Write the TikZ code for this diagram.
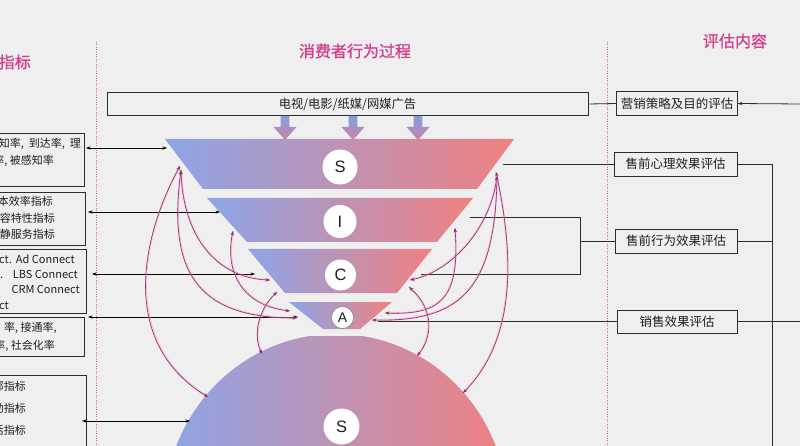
\documentclass[tikz,border=0pt]{standalone}
\usepackage{fontspec}
\setmainfont{Noto Sans CJK SC}
\newfontfamily\latf{Liberation Sans}
\newfontfamily\hdrf[FakeBold=1.1]{Noto Sans CJK SC}
\usetikzlibrary{arrows.meta}
\definecolor{bgc}{RGB}{239,239,239}
\definecolor{hdrc}{RGB}{212,62,140}
\definecolor{fblue}{RGB}{140,165,232}
\definecolor{fred}{RGB}{240,128,128}
\definecolor{curvc}{RGB}{150,40,105}
\definecolor{haloc}{RGB}{238,150,190}
\definecolor{dotc}{RGB}{205,110,140}
\definecolor{boxc}{RGB}{45,45,45}
\definecolor{txtc}{RGB}{30,30,30}
\definecolor{arrtop}{RGB}{128,160,228}
\definecolor{arrbot}{RGB}{210,128,160}
\newcommand\magcurve[4]{%
  \draw[cvhalo] (#1) .. controls #2 and #3 .. (#4);
  \draw[cvcore] (#1) .. controls #2 and #3 .. (#4);}
\begin{document}
\begin{tikzpicture}[x=1pt,y=-1pt,
  hdr/.style={text=hdrc,font=\hdrf\fontsize{16}{16}\selectfont,inner sep=0pt},
  dotl/.style={draw=dotc,line width=0.7pt,dash pattern=on 0.8pt off 1.6pt},
  rbox/.style={draw=boxc,line width=0.8pt,inner sep=0pt,text=txtc,font=\fontsize{12.5}{12.5}\selectfont,minimum height=23.5pt},
  lbox/.style={draw=boxc,line width=0.8pt,inner sep=0pt},
  ltx/.style={text=txtc,font=\fontsize{11}{11}\selectfont,inner sep=0pt,anchor=base east},
  ltxw/.style={ltx,anchor=base west},
  ln/.style={draw=boxc,line width=0.8pt},
  blk/.style={draw=black,line width=0.6pt,{Stealth[length=4.5pt,width=3.2pt]}-{Stealth[length=4.5pt,width=3.2pt]}},
  cvhalo/.style={draw=haloc,line width=1.8pt,opacity=0.55},
  cvcore/.style={draw=curvc,line width=0.6pt,{Stealth[length=4.5pt,width=3.4pt]}-{Stealth[length=4.5pt,width=3.4pt]}},
  letc/.style={circle,fill=white,inner sep=0pt,font=\latf\fontsize{16.5}{16.5}\selectfont,text=txtc},
  funnel/.style={left color=fblue,right color=fred}
]
\useasboundingbox (0,0) rectangle (800,446);
\clip (0,0) rectangle (800,446);
\fill[bgc] (0,0) rectangle (800,446);

% headers
\node[hdr,anchor=east] (h1) at (31,62) {指标};
\node[hdr] (h2) at (355,51) {消费者行为过程};
\node[hdr] (h3) at (735,41) {评估内容};

% dotted separators
\coordinate (d1t) at (96,42); \coordinate (d1b) at (96,446);
\coordinate (d2t) at (607,42); \coordinate (d2b) at (607,446);
\draw[dotl] (d1t) -- (d1b);
\draw[dotl] (d2t) -- (d2b);

% top boxes
\node[rbox,minimum width=481pt,font=\fontsize{12.3}{12.3}\selectfont] (ad) at (347.5,104) {电视/电影/纸媒/网媒广告};
\node[rbox,minimum width=120.5pt] (e0) at (677,103.5) {营销策略及目的评估};
\coordinate (rin) at (800,104);
\draw[ln] (ad.east) -- (e0.west);
\draw[ln,-{Stealth[length=4.5pt,width=3.2pt]}] (rin) -- (e0.east);

% down arrows
\foreach \ax in {285,353,418}{
  \shade[top color=arrtop,bottom color=arrbot]
    ({\ax-4.3},116) -- ({\ax+4.3},116) -- ({\ax+4.3},127) -- ({\ax+11.5},127)
    -- (\ax,140) -- ({\ax-11.5},127) -- ({\ax-4.3},127) -- cycle;
}

% funnel layers
\shade[funnel] (165,139) -- (514,139) -- (477,189) -- (203,189) -- cycle;
\shade[funnel] (207,198) -- (473,198) -- (437,242) -- (247,242) -- cycle;
\shade[funnel] (248,249) -- (432,249) -- (397,293) -- (285,293) -- cycle;
\shade[funnel] (289,302) -- (392,302) -- (360,329) -- (323,329) -- cycle;
\begin{scope}
  \clip (0,336) rectangle (800,446);
  \shade[funnel] (336,512) ellipse [x radius=172, y radius=178];
\end{scope}

% letters
\node[letc,minimum size=35pt] (cS) at (340,167) {S};
\node[letc,minimum size=33pt] (cI) at (340,221.5) {I};
\node[letc,minimum size=31pt] (cC) at (340.5,275) {C};
\node[letc,minimum size=22pt,draw=black!55,line width=0.4pt,font=\latf\fontsize{14}{14}\selectfont] (cA) at (342.5,317.5) {A};
\node[letc,minimum size=36pt] (cD) at (341.5,426.5) {S};

% left boxes
\node[lbox,minimum width=89pt,minimum height=53pt] (b1) at (39.5,159.5) {};
\node[lbox,minimum width=90pt,minimum height=53pt] (b2) at (40,218.5) {};
\node[lbox,minimum width=91pt,minimum height=64pt] (b3) at (40.5,281) {};
\node[lbox,minimum width=89.5pt,minimum height=39pt] (b4) at (39.75,336.5) {};
\node[lbox,minimum width=91pt,minimum height=85pt] (b5) at (40.5,417.5) {};

% left texts
\node[ltx] (t11) at (81,148) {知率,\ \ 到达率,\ \ 理};
\node[ltx] (t12) at (54,164.7) {率, 被感知率};
\node[ltx] (t21) at (53,205.7) {本效率指标};
\node[ltx] (t22) at (55,222.3) {容特性指标};
\node[ltx] (t23) at (55,239) {静服务指标};
\node[ltxw] (t31a) at (-1,263.3) {ct.};
\node[ltx] (t31b) at (75,263.3) {Ad Connect};
\node[ltxw] (t32a) at (0,278) {.};
\node[ltx] (t32b) at (78,278) {LBS Connect};
\node[ltx] (t33) at (80,293) {CRM Connect};
\node[ltxw] (t34) at (-1,309) {ct};
\node[ltx] (t41) at (57,331.3) {率, 接通率,};
\node[ltx] (t42) at (55,349) {率, 社会化率};
\node[ltx] (t51) at (26,390.7) {部指标};
\node[ltx] (t52) at (26,412.3) {动指标};
\node[ltx] (t53) at (26,434) {活指标};

% left black arrows
\coordinate (l1) at (86,148);  \coordinate (f1) at (167,148);
\coordinate (l2) at (88,212);  \coordinate (f2) at (220,212);
\coordinate (l3) at (92,274);  \coordinate (f3) at (255,274);
\coordinate (l4) at (88,317);  \coordinate (f4) at (298,317);
\coordinate (l5) at (82,421);  \coordinate (f5) at (190,421);
\draw[blk] (l1) -- (f1);
\draw[blk] (l2) -- (f2);
\draw[blk] (l3) -- (f3);
\draw[blk] (l4) -- (f4);
\draw[blk] (l5) -- (f5);

% right evaluation boxes
\node[rbox,minimum width=123pt,minimum height=24pt] (e1) at (675.5,164) {售前心理效果评估};
\node[rbox,minimum width=122pt,minimum height=24pt] (e2) at (676,241) {售前行为效果评估};
\node[rbox,minimum width=120pt,minimum height=23pt] (e3) at (677,321.5) {销售效果评估};

\coordinate (sRl) at (503,164);
\coordinate (iRl) at (470,217);
\coordinate (j1) at (580,217);
\coordinate (j2) at (580,274);
\coordinate (cRl) at (421,274);
\coordinate (j3) at (580,241);
\coordinate (aRl) at (378,321.5);
\coordinate (r3) at (800,321.5);
\coordinate (v1) at (772,164);
\coordinate (v2) at (772,446);
\draw[ln] (sRl) -- (e1.west);
\draw[ln] (iRl) -- (j1) -- (j2) -- (cRl);
\draw[ln] (j3) -- (e2.west);
\draw[ln] (aRl) -- (e3.west);
\draw[ln] (e3.east) -- (r3);
\draw[ln] (e1.east) -- (v1) -- (v2);
\draw[ln] (e2.east) -- (e2.east -| v1);

% magenta curve endpoints
\coordinate (sLa) at (180,166);
\coordinate (sLb) at (181,170);
\coordinate (iL) at (233,231);
\coordinate (cLa) at (270,280);
\coordinate (cLb) at (277,292);
\coordinate (aLa) at (290,311);
\coordinate (aLb) at (297,318);
\coordinate (dL) at (208,397);
\coordinate (dLc) at (262,354);
\coordinate (sRa) at (496,172);
\coordinate (sRb) at (497,176);
\coordinate (iR) at (455,228);
\coordinate (cRa) at (410,280);
\coordinate (cRb) at (409,287);
\coordinate (aRa) at (385,313);
\coordinate (aRb) at (372,320);
\coordinate (dR) at (463,393);
\coordinate (dRc) at (417,356);

\magcurve{sLa}{(145,230)}{(115,340)}{dL}
\magcurve{sLb}{(183,235)}{(215,278)}{cLa}
\magcurve{sLb}{(168,270)}{(195,318)}{aLb}
\magcurve{iL}{(225,270)}{(240,305)}{aLa}
\magcurve{cLb}{(258,310)}{(253,335)}{dLc}
\magcurve{sRa}{(515,260)}{(515,340)}{dR}
\magcurve{sRb}{(490,230)}{(450,272)}{cRa}
\magcurve{sRb}{(495,290)}{(460,322)}{aRb}
\magcurve{iR}{(460,300)}{(440,315)}{aRa}
\magcurve{cRb}{(435,310)}{(432,338)}{dRc}
\end{tikzpicture}
\end{document}
